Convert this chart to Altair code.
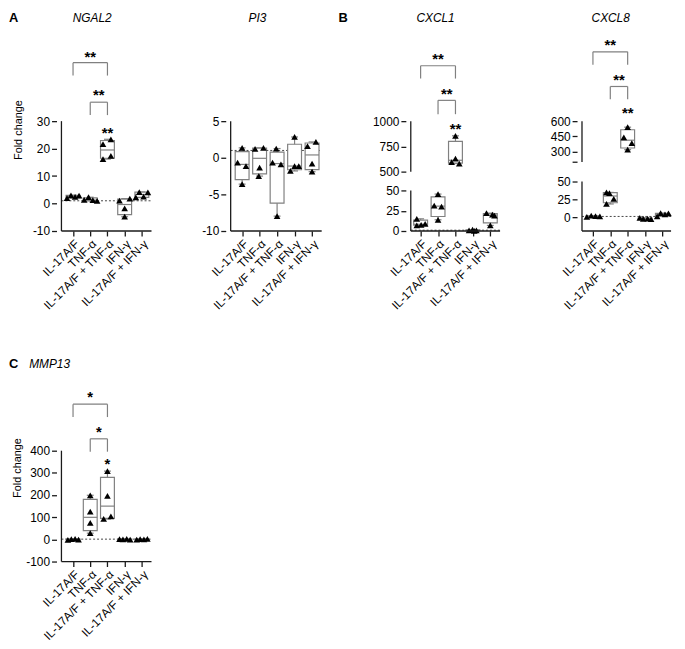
import json
import altair as alt
import numpy as np
import pandas as pd

FONT = "Liberation Sans"
AXC = "#1a1a1a"
BOXC = "#808080"

groups = ["IL-17A/F", "TNF-α", "IL-17A/F + TNF-α", "IFN-γ", "IL-17A/F + IFN-γ"]

# ---- replicate values (4 per group) and horizontal spread of the symbols ----
ngal2_values = [[2.0, 3.0, 2.4, 2.9], [1.3, 2.3, 1.2, 1.0], [21.6, 23.4, 16.2, 17.4],
                [1.1, 1.8, -1.8, -4.8], [2.2, 4.2, 2.5, 4.1]]
ngal2_spread = [[-0.35, -0.12, 0.12, 0.35], [-0.35, -0.1, 0.15, 0.4], [-0.26, 0.2, -0.26, 0.2],
                [-0.3, 0.3, 0.0, 0.0], [-0.35, -0.15, 0.1, 0.35]]

pi3_values = [[1.35, -0.68, -1.13, -3.6], [1.2, 1.35, -1.35, -2.5], [1.26, -0.68, -0.9, -7.97],
              [2.84, -1.8, -1.13, -1.13], [1.58, 2.16, -0.81, -1.9]]
pi3_spread = [[0.0, -0.26, 0.22, 0.0], [-0.26, 0.22, 0.0, -0.05], [-0.05, -0.26, 0.22, 0.0],
              [0.0, -0.24, 0.0, 0.24], [-0.26, 0.22, 0.0, 0.0]]

cxcl1_values = [[15, 6.9, 7.7, 8.9], [45.5, 31.3, 30, 13.8], [855, 630, 595, 580],
                [0.8, 1.6, 0.8, 0.2], [22, 20.3, 19, 6.9]]
cxcl1_spread = [[-0.22, -0.22, 0.03, 0.26], [0.0, -0.22, 0.2, 0.0], [0.0, 0.0, -0.22, 0.22],
                [-0.22, -0.02, 0.2, 0.08], [-0.22, 0.12, 0.24, 0.0]]

cxcl8_values = [[0.5, 2.0, 1.5, 1.2], [34.7, 33.8, 18.5, 25.5], [541, 441, 386, 321],
                [-1.0, -2.5, -2.0, -2.8], [1.0, 5.5, 4.0, 5.2]]
cxcl8_spread = [[-0.35, -0.1, 0.15, 0.4], [-0.22, -0.05, -0.22, 0.2], [0.0, -0.22, 0.24, 0.0],
                [-0.3, -0.1, 0.15, 0.35], [-0.3, -0.1, 0.15, 0.35]]

mmp13_values = [[-2, 1, 2, -1], [199, 125, 74, 28], [308, 196, 92, 104],
                [1, 0, 2, -1], [-1, 1, 0, 2]]
mmp13_spread = [[-0.3, -0.1, 0.12, 0.32], [0.0, 0.0, 0.0, 0.0], [0.0, 0.0, -0.22, 0.2],
                [-0.3, -0.1, 0.12, 0.32], [-0.3, -0.1, 0.12, 0.32]]

# significance brackets: (from group, to group, bracket level, leg end, label level, label)
ngal2_brackets = [(0, 2, 51.3, 46.6, 54.9, "**"), (1, 2, 36.9, 32.2, 40.8, "**")]
cxcl1_brackets = [(0, 2, 1549, 1422, 1657, "**"), (1, 2, 1206, 1069, 1304, "**")]
cxcl8_brackets = [(0, 2, 1278, 1152, 1384, "**"), (1, 2, 939, 813, 1045, "**")]
mmp13_brackets = [(0, 2, 609.8, 551.8, 658.9, "*"), (1, 2, 453.6, 395.5, 502.7, "*")]
ngal2_star = (2, 27.1, "**")
cxcl1_star = (2, 961, "**")
cxcl8_star = (2, 716, "**")
mmp13_star = (2, 359.8, "*")

label_expr = json.dumps(groups, ensure_ascii=False) + "[datum.value]"


def make_panel(values, spread, xdom, x_end, width, height, ydom, yrange, yticks, y_segments,
               brackets, star, title, title_x, ytitle=None, ytitle_pad=12, hide_tick=None,
               letter=None, letter_dx=-49):
    xscale = alt.Scale(domain=xdom, nice=False, zero=False)
    yscale = alt.Scale(domain=ydom, range=yrange, nice=False, zero=False)
    xaxis = alt.Axis(values=[0, 1, 2, 3, 4], labelExpr=label_expr, labelAngle=-45,
                     labelAlign="right", labelBaseline="top", labelFontSize=12, labelFont=FONT,
                     labelColor="black", labelPadding=2, tickSize=5, tickColor=AXC, tickWidth=1.3,
                     domain=False, grid=False, labelFlush=False, labelOverlap=False)
    ylab = "'' + datum.value"
    if hide_tick is not None:
        ylab = f"datum.value == {hide_tick} ? '' : '' + datum.value"
    yaxis = alt.Axis(values=yticks, labelExpr=ylab, labelFontSize=12, labelFont=FONT,
                     labelColor="black", labelPadding=2, tickSize=5, tickColor=AXC, tickWidth=1.3,
                     domain=False, grid=False, labelFlush=False, labelOverlap=False,
                     titleFont=FONT, titleFontSize=11, titleFontWeight="normal", titleColor="black",
                     titlePadding=ytitle_pad)

    def X(f):
        return alt.X(f, type="quantitative", scale=xscale, axis=xaxis, title=None)

    def Y(f):
        return alt.Y(f, type="quantitative", scale=yscale, axis=yaxis, title=ytitle)

    pts, stats, caps = [], [], []
    for gi, (vals, dxs) in enumerate(zip(values, spread)):
        for v, d in zip(vals, dxs):
            pts.append({"x": gi + d, "value": v})
        q1, med, q3 = np.percentile(vals, [25, 50, 75], method="weibull")
        stats.append({"x": gi, "min": min(vals), "q1": q1, "med": med, "q3": q3, "max": max(vals)})
        caps.append({"x": gi, "v": min(vals)})
        caps.append({"x": gi, "v": max(vals)})
    pts, stats, caps = pd.DataFrame(pts), pd.DataFrame(stats), pd.DataFrame(caps)

    layers = []
    layers.append(alt.Chart(pd.DataFrame({"x": [xdom[0]], "x2": [x_end], "y": [1.0]}))
                  .mark_rule(color="#444444", strokeWidth=1, strokeDash=[2, 2])
                  .encode(x=X("x"), x2="x2", y=Y("y")))
    layers.append(alt.Chart(stats).mark_rule(color=BOXC, strokeWidth=1.2)
                  .encode(x=X("x"), y=Y("min"), y2="max"))
    layers.append(alt.Chart(caps).mark_tick(orient="horizontal", size=7, thickness=1.2,
                                            color=BOXC, opacity=1)
                  .encode(x=X("x"), y=Y("v")))
    layers.append(alt.Chart(stats).mark_bar(orient="vertical", size=14, fill="white",
                                            stroke=BOXC, strokeWidth=1.2)
                  .encode(x=X("x"), y=Y("q1"), y2="q3"))
    layers.append(alt.Chart(stats).mark_tick(orient="horizontal", size=14, thickness=1.2,
                                             color=BOXC, opacity=1)
                  .encode(x=X("x"), y=Y("med")))
    layers.append(alt.Chart(pts).mark_point(shape="triangle-up", filled=True, size=45,
                                            color="black", opacity=1)
                  .encode(x=X("x"), y=Y("value")))
    # axis lines
    seg = pd.DataFrame([{"x": xdom[0], "y": a, "y2": b} for a, b in y_segments])
    layers.append(alt.Chart(seg).mark_rule(color=AXC, strokeWidth=1.3)
                  .encode(x=X("x"), y=Y("y"), y2="y2"))
    layers.append(alt.Chart(pd.DataFrame({"x": [xdom[0]], "x2": [x_end], "y": [ydom[0]]}))
                  .mark_rule(color=AXC, strokeWidth=1.3)
                  .encode(x=X("x"), x2="x2", y=Y("y")))
    # brackets
    if brackets:
        hb = pd.DataFrame([{"x": a, "x2": b, "y": ln} for a, b, ln, lg, tl, t in brackets])
        legs = pd.DataFrame([{"x": xx, "y": lg, "y2": ln} for a, b, ln, lg, tl, t in brackets
                             for xx in (a, b)])
        txt = pd.DataFrame([{"x": (a + b) / 2, "y": tl, "t": t} for a, b, ln, lg, tl, t in brackets])
        layers.append(alt.Chart(hb).mark_rule(color=BOXC, strokeWidth=1.2)
                      .encode(x=X("x"), x2="x2", y=Y("y")))
        layers.append(alt.Chart(legs).mark_rule(color=BOXC, strokeWidth=1.2)
                      .encode(x=X("x"), y=Y("y"), y2="y2"))
        layers.append(alt.Chart(txt).mark_text(fontSize=15, fontWeight="bold", font=FONT,
                                               color="black", baseline="middle", dy=4)
                      .encode(x=X("x"), y=Y("y"), text="t:N"))
    if star:
        sd = pd.DataFrame([{"x": star[0], "y": star[1], "t": star[2]}])
        layers.append(alt.Chart(sd).mark_text(fontSize=15, fontWeight="bold", font=FONT,
                                              color="black", baseline="middle", dy=4)
                      .encode(x=X("x"), y=Y("y"), text="t:N"))
    # gene name (panel title)
    layers.append(alt.Chart(pd.DataFrame({"t": [title]}))
                  .mark_text(fontSize=12, fontStyle="italic", font=FONT, color="black",
                             align="center", baseline="alphabetic")
                  .encode(x=alt.value(title_x), y=alt.value(-6), text="t:N"))
    if letter:
        layers.append(alt.Chart(pd.DataFrame({"t": [letter]}))
                      .mark_text(fontSize=13, fontWeight="bold", font=FONT, color="black",
                                 align="left", baseline="alphabetic")
                      .encode(x=alt.value(letter_dx), y=alt.value(-6), text="t:N"))

    return alt.layer(*layers).properties(width=width, height=height)


ngal2 = make_panel(ngal2_values, ngal2_spread, [-0.674, 4.56], 4.56, 101, 205,
                   [-10, 63.87], [205, 0], [-10, 0, 10, 20, 30], [(-10, 30)],
                   ngal2_brackets, ngal2_star, "NGAL2", 36, ytitle="Fold change",
                   ytitle_pad=9, letter="A", letter_dx=-48)
pi3 = make_panel(pi3_values, pi3_spread, [-0.655, 5.118], 4.55, 112, 205,
                 [-10, 17.7], [205, 0], [-10, -5, 0, 5], [(-10, 5)],
                 [], None, "PI3", 32)
cxcl1 = make_panel(cxcl1_values, cxcl1_spread, [-0.564, 4.718], 4.56, 103, 205,
                   [0, 50, 500, 1000, 1921.6], [205, 164, 145, 94, 0],
                   [0, 25, 50, 500, 750, 1000], [(0, 50), (500, 1000)],
                   cxcl1_brackets, cxcl1_star, "CXCL1", 30, letter="B", letter_dx=-68)
cxcl8 = make_panel(cxcl8_values, cxcl8_spread, [-0.63, 4.5], 4.5, 100, 205,
                   [-19.44, 50, 200, 600, 1509.7], [205, 155, 135.3, 94, 0],
                   [0, 25, 50, 200, 300, 450, 600], [(-19.44, 50), (200, 600)],
                   cxcl8_brackets, cxcl8_star, "CXCL8", 34, hide_tick=200)
mmp13 = make_panel(mmp13_values, mmp13_spread, [-0.674, 4.56], 4.56, 101, 190,
                   [-100, 748.2], [190, 0], [-100, 0, 100, 200, 300, 400], [(-100, 400)],
                   mmp13_brackets, mmp13_star, "MMP13", -7, ytitle="Fold change",
                   ytitle_pad=3, letter="C", letter_dx=-48)

chart = alt.concat(ngal2, pi3, cxcl1, cxcl8, mmp13, columns=4, bounds="flush", align="each",
                   spacing={"row": 144, "column": 70},
                   padding={"left": 0, "top": 0, "right": 0, "bottom": 0},
                   autosize=alt.AutoSizeParams(type="pad")
                   ).configure(font=FONT).configure_view(stroke="transparent")

chart.save("out.html", embed_options={"renderer": "svg", "actions": False})
